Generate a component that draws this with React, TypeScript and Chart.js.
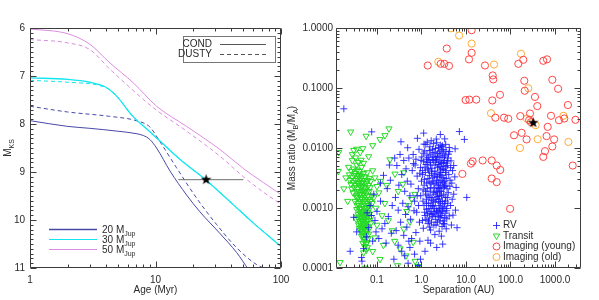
import React, { useEffect, useRef } from 'react';
import { Chart, registerables } from 'chart.js';
Chart.register(...registerables);

// ---------------- Left panel data (Age in Myr vs M_KS) ----------------
const ageCond20 = [1, 2, 3, 5, 7, 8, 9, 10.2, 13.06, 17.7, 22.6, 32.6, 44.4, 55, 70];
const magCond20 = [7.93, 8.05, 8.09, 8.15, 8.2, 8.24, 8.32, 8.5, 8.98, 9.48, 9.83, 10.28, 10.68, 11.03, 11.4];
const ageDusty20 = [1, 2, 4.3, 7, 9, 10.8, 14.7, 21.2, 30.6, 44.4, 64, 82];
const magDusty20 = [7.63, 7.75, 7.84, 7.93, 8.06, 8.36, 8.91, 9.54, 10.09, 10.58, 10.93, 11.05];
const ageCond30 = [1, 2, 3, 4, 4.9, 6.6, 8.5, 10.8, 15.7, 25.6, 41.6, 60, 100];
const magCond30 = [7.04, 7.07, 7.13, 7.23, 7.42, 7.84, 8.1, 8.35, 8.74, 9.18, 9.68, 10.06, 10.55];
const ageDusty30 = [1, 2, 3.6, 4.4, 4.9, 6.6, 8.5, 10.8, 15.7, 25.6, 41.6, 60, 100];
const magDusty30 = [7.09, 7.13, 7.2, 7.3, 7.42, 7.84, 8.1, 8.35, 8.74, 9.18, 9.68, 10.06, 10.55];
const ageCond50 = [1, 2, 3, 4.34, 6.64, 10.2, 17.7, 32.6, 50.3, 72.4, 100];
const magCond50 = [6.02, 6.12, 6.34, 6.73, 7.14, 7.63, 8.05, 8.53, 8.93, 9.22, 9.47];
const ageDusty50 = [1, 2, 3, 4.34, 5.2, 9.6, 17.7, 32.6, 50.3, 72.4, 100];
const magDusty50 = [6.24, 6.31, 6.45, 6.86, 7.05, 7.66, 8.15, 8.67, 9.1, 9.42, 9.67];
const objAge = 25.3;
const objAgeRange = [15.2, 50.1];
const objMag = 9.16;

const leftXTicks = [1, 10, 100];
const leftXLabels = ['1', '10', '100'];
const leftYTicks = [6, 7, 8, 9, 10, 11];
const leftYLabels = ['6', '7', '8', '9', '10', '11'];
const massLabels = ['20', '30', '50'];

// ---------------- Right panel data (Separation AU vs mass ratio) ----------------
const rvPoints: [number, number][] = [
  [1.1,0.0082],[1.3,0.0065],[1.5,0.0091],[1.8,0.0073],[2.1,0.0058],[2.5,0.0088],[2.9,0.0069],[3.4,0.0076],[1.2,0.0048],[1.6,0.0052],
  [2.0,0.0041],[2.3,0.0047],[2.7,0.0039],[3.1,0.0044],[3.8,0.0051],[1.05,0.0036],[1.4,0.0031],[1.7,0.0038],[2.2,0.0029],[2.6,0.0033],
  [3.0,0.0027],[3.6,0.0031],[4.1,0.0036],[1.15,0.0024],[1.35,0.0021],[1.9,0.0025],[2.4,0.0022],[2.8,0.0019],[3.3,0.0023],[4.0,0.0018],
  [1.25,0.0017],[1.55,0.0015],[1.85,0.0018],[2.15,0.0014],[2.55,0.0016],[2.95,0.0013],[3.5,0.0015],[1.08,0.0013],[1.45,0.0012],[1.75,0.0011],
  [2.05,0.00125],[2.45,0.0011],[3.2,0.00105],[3.9,0.0012],[1.3,0.00095],[1.65,0.00088],[1.95,0.00098],[2.35,0.00085],[2.75,0.00092],[3.4,0.00082],
  [1.2,0.00075],[1.5,0.00068],[1.8,0.00072],[2.1,0.00064],[2.65,0.0007],[3.05,0.00061],[3.7,0.00066],[1.4,0.00055],[1.9,0.00052],[2.3,0.00058],
  [2.9,0.00049],[3.3,0.00054],[1.1,0.00046],[1.6,0.00043],[2.5,0.00041],[3.6,0.00045],[2.0,0.00036],[2.8,0.00034],[1.35,0.0058],[1.75,0.0064],
  [2.25,0.0072],[2.85,0.0055],[3.25,0.0062],[3.95,0.0068],[1.55,0.0105],[2.05,0.0098],[2.65,0.0112],[3.15,0.0094],[1.25,0.0115],[4.3,0.0087],
  [1.45,0.0043],[1.95,0.0034],[2.45,0.0027],[3.45,0.0039],[1.65,0.0026],[2.2,0.0019],[2.7,0.0024],[3.75,0.0021],[1.0,0.0028],[4.4,0.0029],
  [1.3,0.0014],[1.7,0.00135],[2.3,0.00155],[2.6,0.00128],[3.6,0.00098],[4.2,0.00074],[1.05,0.00062],[1.9,0.00082],[2.4,0.00072],[3.0,0.00088],
  [0.65,0.0078],[0.72,0.0052],[0.8,0.0034],[0.85,0.0021],[0.7,0.0013],[0.78,0.00085],[0.9,0.00058],[0.75,0.00039],[0.88,0.0095],[0.95,0.0047],
  [4.6,0.0061],[5.0,0.0042],[4.8,0.0026],[5.3,0.0017],[4.5,0.0011],[5.1,0.00076],[4.7,0.00052],[5.6,0.0033],[6.0,0.0022],[5.8,0.00092],
  [0.81,0.0145],[1.12,0.0177],[1.14,0.0116],[2.65,0.0168],[3.32,0.0142],[2.2,0.0122],[3.5,0.0115],[2.84,0.0105],[4.2,0.0102],[7.1,0.0188],
  [9.2,0.0139],[5.7,0.0097],[0.49,0.0101],[0.346,0.0127],[0.076,0.0186],[6.3,0.00047],[10.4,0.0015],[0.92,0.00028],[1.6,0.00026],[2.2,0.00022],
  [0.6,0.00031],[0.55,0.00022],[0.7,0.00017],[1.2,0.00019],[0.95,0.00014],[0.5,0.00012],[0.42,0.00016],[1.4,0.00029],[3.0,0.00025],[0.85,0.00011],
  [0.33,0.0078],[0.4,0.0062],[0.28,0.0051],[0.45,0.0045],[0.52,0.0068],[0.36,0.0036],[0.48,0.0028],[0.31,0.0024],[0.42,0.0019],[0.55,0.0016],
  [0.26,0.0015],[0.38,0.0012],[0.5,0.00105],[0.3,0.00092],[0.44,0.00078],[0.57,0.00065],[0.34,0.00058],[0.47,0.00048],[0.27,0.00042],[0.4,0.00035],
  [0.52,0.00028],[0.3,0.00024],[0.36,0.00019],[0.24,0.00014],[0.2,0.0029],[0.17,0.0021],[0.22,0.0011],[0.18,0.00072],[0.15,0.00055],[0.21,0.00038],
  [0.16,0.00026],[0.12,0.0013],[0.1,0.00088],[0.13,0.00045],[0.09,0.00062],[0.11,0.00031],[0.085,0.0017],[0.07,0.0011],[0.065,0.00047],[0.058,0.00033],
  [0.05,0.00021],[0.045,0.00015],[0.06,0.00083],[0.075,0.00075],[0.095,0.0004],[0.14,0.0035],[0.19,0.0052],[0.25,0.0068],[0.12,0.0026],[0.08,0.00028],
  [0.046,0.00013],[0.035,0.0004],[0.03,0.0007],[0.025,0.00019],[0.018,0.045],
  [1.02,0.0071],[1.18,0.0089],[1.33,0.0076],[1.48,0.0063],[1.62,0.0079],[1.78,0.0095],[1.92,0.0084],[2.08,0.0069],[2.32,0.0081],[2.48,0.0061],
  [2.62,0.0076],[2.78,0.0093],[3.02,0.0082],[3.28,0.0071],[3.55,0.0088],[3.85,0.0061],[4.05,0.0079],[1.12,0.0059],[1.27,0.0053],[1.42,0.0069],
  [1.58,0.0057],[1.72,0.0046],[1.88,0.0062],[2.02,0.0052],[2.18,0.0064],[2.38,0.0053],[2.58,0.0049],[2.72,0.0058],[2.92,0.0046],[3.12,0.0057],
  [3.42,0.0049],[3.68,0.0056],[1.06,0.0042],[1.22,0.0039],[1.38,0.0045],[1.52,0.0035],[1.68,0.0041],[1.82,0.0032],[2.12,0.0037],[2.28,0.0033],
  [2.52,0.0036],[2.68,0.0043],[2.88,0.0035],[3.18,0.0032],[3.35,0.0028],[3.58,0.0042],[1.16,0.003],[1.31,0.0026],[1.49,0.0027],[1.61,0.0022],
  [1.79,0.0028],[1.98,0.0021],[2.14,0.0026],[2.36,0.0024],[2.56,0.0021],[2.76,0.0029],[3.08,0.0022],[3.22,0.0026],[3.52,0.0024],[1.09,0.002],
  [1.24,0.0019],[1.41,0.0016],[1.57,0.0019],[1.73,0.0015],[1.88,0.0013],[2.03,0.0017],[2.26,0.0018],[2.42,0.0014],[2.62,0.0019],[2.82,0.0016],
  [3.15,0.0017],[3.42,0.0013],[3.8,0.0015],[1.14,0.0011],[1.29,0.0012],[1.46,0.00098],[1.62,0.0011],[1.82,0.00105],[2.22,0.00092],[2.52,0.00098],
  [2.68,0.0012],[2.98,0.001],[3.28,0.00118],[3.7,0.0009],[1.18,0.00085],[1.36,0.0008],[1.55,0.00082],[1.72,0.00078],[2.02,0.00076],[2.18,0.00088],
  [2.62,0.00082],[2.86,0.00075],[3.32,0.00069],[1.26,0.00064],[1.44,0.00061],[1.68,0.00058],[2.12,0.00052],[2.58,0.00061],[3.12,0.00055],[1.52,0.00048],
  [0.98,0.0062],[0.92,0.0038],[0.96,0.0016],[0.86,0.0011],[4.5,0.0047],[4.35,0.0023],[4.9,0.0014],[1.35,0.0125],[1.85,0.0118],[2.42,0.0102],
  [2.95,0.0109],[1.65,0.0132],[2.15,0.0141],[0.62,0.0042],[0.58,0.0025],[0.68,0.0009],[0.66,0.0055],[5.3,0.0051],[0.75,0.0065],[0.8,0.0016],
];

const transitPoints: [number, number][] = [
  [0.03,0.0045],[0.035,0.0052],[0.04,0.0041],[0.045,0.0048],[0.05,0.0038],[0.028,0.0033],[0.033,0.0029],[0.038,0.0035],[0.043,0.0031],[0.048,0.0027],
  [0.055,0.0033],[0.06,0.0029],[0.065,0.0024],[0.026,0.0025],[0.031,0.0022],[0.036,0.0021],[0.041,0.0024],[0.046,0.0019],[0.052,0.0022],[0.058,0.0018],
  [0.029,0.0018],[0.034,0.0016],[0.039,0.0019],[0.044,0.0015],[0.049,0.0017],[0.054,0.0014],[0.062,0.0016],[0.07,0.0013],[0.032,0.0013],[0.037,0.0012],
  [0.042,0.0013],[0.047,0.0011],[0.053,0.0012],[0.059,0.001],[0.066,0.0011],[0.035,0.00095],[0.04,0.00088],[0.045,0.00098],[0.05,0.00085],[0.056,0.0009],
  [0.038,0.00078],[0.043,0.00072],[0.048,0.00076],[0.052,0.00068],[0.061,0.00074],[0.034,0.00065],[0.041,0.0006],[0.046,0.00063],[0.051,0.00057],[0.057,0.0006],
  [0.039,0.00052],[0.044,0.00049],[0.049,0.00053],[0.054,0.00046],[0.063,0.0005],[0.042,0.00042],[0.047,0.0004],[0.052,0.00038],[0.058,0.00041],[0.045,0.00034],
  [0.05,0.00032],[0.055,0.0003],[0.06,0.00027],[0.048,0.00026],[0.053,0.00023],[0.027,0.0041],[0.025,0.0029],[0.024,0.0036],[0.032,0.0038],[0.037,0.0026],
  [0.042,0.0036],[0.047,0.0023],[0.057,0.0026],[0.067,0.0019],[0.072,0.0028],[0.075,0.0016],[0.068,0.0008],[0.072,0.00055],[0.065,0.00037],[0.058,0.0002],
  [0.033,0.0069],[0.038,0.0058],[0.028,0.0062],[0.044,0.0063],[0.05,0.0056],[0.023,0.0048],[0.036,0.0043],[0.041,0.0017],[0.046,0.0014],[0.053,0.0016],
  [0.04,0.0011],[0.044,0.00083],[0.05,0.0007],[0.055,0.00079],[0.036,0.00071],[0.043,0.00055],[0.048,0.00061],[0.054,0.00052],[0.062,0.00062],[0.056,0.00035],
  [0.08,0.0042],[0.09,0.0032],[0.1,0.0023],[0.085,0.0015],[0.095,0.001],[0.11,0.0018],[0.12,0.0028],[0.13,0.00075],[0.1,0.00052],[0.15,0.0012],
  [0.165,0.0024],[0.196,0.0064],[0.254,0.0037],[0.3,0.0019],[0.71,0.0017],[0.47,0.00088],[0.52,0.0011],[0.55,0.00059],[0.4,0.00045],[0.22,0.00042],
  [0.18,0.00062],[0.25,0.00028],[0.33,0.00021],[0.45,0.00016],[0.117,0.00014],[0.85,0.000107],[0.054,0.0001],[0.0148,0.000124],[0.0135,0.0041],[0.02,0.0032],
  [0.018,0.0021],[0.022,0.0013],[0.08,0.00019],[0.09,0.00032],[0.14,0.00024],[0.6,0.0014],[0.38,0.0025],[0.65,0.00027],[0.29,0.00011],[0.72,0.00013],
  [0.0256,0.0186],[0.035,0.0096],[0.048,0.0098],[0.057,0.0158],[0.08,0.011],[0.117,0.0139],[0.151,0.0162],[0.186,0.021],[0.03,0.0092],[0.042,0.0085],
  [0.065,0.0072],[0.028,0.0078],[0.0138,0.0085],[0.4,0.0039],
  [0.031,0.0035],[0.036,0.0031],[0.041,0.0029],[0.046,0.0034],[0.051,0.0029],[0.039,0.0026],[0.044,0.0022],[0.049,0.002],[0.034,0.0019],[0.038,0.0015],
  [0.043,0.0018],[0.048,0.0013],[0.053,0.0019],[0.058,0.0013],[0.036,0.0011],[0.041,0.00098],[0.046,0.00088],[0.051,0.001],[0.056,0.0011],[0.039,0.00068],
  [0.044,0.00066],[0.049,0.00071],[0.054,0.00064],[0.04,0.00046],[0.045,0.00044],[0.05,0.00048],[0.055,0.00042],[0.047,0.00036],[0.052,0.00028],[0.057,0.00025],
  [0.063,0.00031],[0.05,0.00018],[0.061,0.00022],[0.029,0.0027],[0.027,0.0021],[0.033,0.0024],[0.06,0.0039],[0.066,0.0031],[0.07,0.0022],[0.064,0.0014],
  [0.069,0.001],[0.074,0.0007],[0.078,0.0012],[0.035,0.0015],[0.055,0.0021],[0.045,0.0026],[0.04,0.0033],[0.062,0.00086],[0.058,0.00055],[0.066,0.00045],
];

const youngPoints: [number, number][] = [
  [13.4,0.92],[3.7,0.455],[13.4,0.386],[11.7,0.3],[2.7,0.253],[3.25,0.253],[4.15,0.234],[1.38,0.237],[26.7,0.237],[39.8,0.162],
  [41,0.139],[194,0.295],[150,0.253],[546,0.284],[661,0.3],[204,0.132],[871,0.137],[209,0.09],[1175,0.097],[355,0.071],
  [400,0.05],[58,0.077],[39,0.062],[9.8,0.063],[11.9,0.064],[17,0.064],[1950,0.052],[45.7,0.032],[71.5,0.032],[89,0.0307],
  [166,0.034],[274,0.0376],[263,0.029],[288,0.027],[813,0.0344],[1230,0.029],[1620,0.031],[2880,0.0295],[686,0.0225],[120,0.0163],
  [178,0.0179],[230,0.0139],[646,0.0158],[955,0.0139],[871,0.0106],[596,0.00885],[546,0.0071],[14.1,0.006],[12.9,0.0055],[23.7,0.0062],
  [37.8,0.0062],[49,0.0051],[59,0.0043],[8.3,0.0037],[37.8,0.0031],[49,0.0027],[2500,0.0051],[98,0.00097],
];

const oldPoints: [number, number][] = [
  [4.6,0.99],[7.0,0.75],[13.4,0.55],[2.39,0.273],[42.7,0.246],[172,0.372],[251,0.099],[36.5,0.038],[234,0.031],[368,0.024],
  [408,0.014],[2000,0.0126],[163,0.01],[1550,0.0344],
];

const starPoint: [number, number] = [324, 0.0263];

const rightXTicks = [0.1, 1, 10, 100, 1000];
const rightXLabels = ['0.1', '1.0', '10.0', '100.0', '1000.0'];
const rightYTicks = [1, 0.1, 0.01, 0.001, 0.0001];
const rightYLabels = ['1.0000', '0.1000', '0.0100', '0.0010', '0.0001'];
const legendNames = ['RV', 'Transit', 'Imaging (young)', 'Imaging (old)'];

// ---------------- Styles ----------------
const FONT = '"Liberation Sans", Arial, sans-serif';
const TEXT = '#2a2a2a';
const FRAME = '#3c3c3c';
const C20 = '#4848a8';
const C30 = '#12e6ee';
const C50 = '#dc8ce0';
const C_RV = 'rgba(25,25,255,0.85)';
const C_TR = '#26d926';
const C_YO = '#ff4545';
const C_OLD = '#ffaa33';
const RIGHT_OFFSET = 280;

type Part = { t: string; sub?: boolean };

function richText(ctx: CanvasRenderingContext2D, parts: Part[], x: number, y: number, align: 'left' | 'center' | 'right', size = 10) {
  const subSize = Math.round(size * 0.7);
  const widths: number[] = [];
  let total = 0;
  for (const p of parts) {
    ctx.font = `${p.sub ? subSize : size}px ${FONT}`;
    const w = ctx.measureText(p.t).width;
    widths.push(w);
    total += w;
  }
  let cx = align === 'left' ? x : align === 'center' ? x - total / 2 : x - total;
  ctx.textAlign = 'left';
  ctx.textBaseline = 'alphabetic';
  parts.forEach((p, i) => {
    ctx.font = `${p.sub ? subSize : size}px ${FONT}`;
    ctx.fillText(p.t, cx, y + (p.sub ? size * 0.3 : 0));
    cx += widths[i];
  });
}

function makeStar(size: number, color: string) {
  const c = document.createElement('canvas');
  c.width = size;
  c.height = size;
  const g = c.getContext('2d')!;
  const cx = size / 2, cy = size / 2, R = size / 2, r = R * 0.42;
  g.beginPath();
  for (let i = 0; i < 10; i++) {
    const a = -Math.PI / 2 + (i * Math.PI) / 5;
    const rad = i % 2 === 0 ? R : r;
    g.lineTo(cx + rad * Math.cos(a), cy + rad * Math.sin(a));
  }
  g.closePath();
  g.fillStyle = color;
  g.fill();
  return c;
}

function logMinor(min: number, max: number) {
  const out: number[] = [];
  for (let e = -3; e <= 4; e++) {
    for (let m = 2; m <= 9; m++) {
      const v = m * Math.pow(10, e);
      if (v > min && v < max) out.push(v);
    }
  }
  return out;
}

function drawFrame(chart: any, xTicks: [number, number][], yTicks: [number, number][]) {
  const ctx: CanvasRenderingContext2D = chart.ctx;
  const a = chart.chartArea;
  const sx = chart.scales.x;
  const sy = chart.scales.y;
  ctx.save();
  ctx.setLineDash([]);
  ctx.globalAlpha = 1;
  ctx.globalCompositeOperation = 'source-over';
  ctx.strokeStyle = FRAME;
  ctx.lineWidth = 1;
  const L = Math.round(a.left) + 0.5, R = Math.round(a.right) - 0.5, T = Math.round(a.top) + 0.5, B = Math.round(a.bottom) - 0.5;
  ctx.beginPath();
  ctx.moveTo(L, T); ctx.lineTo(R, T); ctx.lineTo(R, B); ctx.lineTo(L, B); ctx.closePath();
  for (const [v, len] of xTicks) {
    const x = Math.round(sx.getPixelForValue(v)) + 0.5;
    ctx.moveTo(x, B); ctx.lineTo(x, B - len);
    ctx.moveTo(x, T); ctx.lineTo(x, T + len);
  }
  for (const [v, len] of yTicks) {
    const y = Math.round(sy.getPixelForValue(v)) + 0.5;
    ctx.moveTo(L, y); ctx.lineTo(L + len, y);
    ctx.moveTo(R, y); ctx.lineTo(R - len, y);
  }
  ctx.stroke();
  ctx.restore();
}

const leftDecor = {
  id: 'leftDecor',
  afterDraw(chart: any) {
    const { ctx, scales, chartArea: a } = chart;
    const xt: [number, number][] = [];
    leftXTicks.forEach((v) => xt.push([v, 6]));
    logMinor(1, 100).forEach((v) => xt.push([v, 3]));
    const yt: [number, number][] = [];
    leftYTicks.forEach((v) => yt.push([v, 6]));
    for (let i = 1; i < 50; i++) if (i % 10 !== 0) yt.push([6 + i / 10, 3]);
    drawFrame(chart, xt, yt);

    ctx.save();
    ctx.fillStyle = TEXT;
    ctx.font = `10px ${FONT}`;
    ctx.textAlign = 'center';
    ctx.textBaseline = 'middle';
    leftXTicks.forEach((v, i) => ctx.fillText(leftXLabels[i], scales.x.getPixelForValue(v), a.bottom + 12));
    ctx.textAlign = 'right';
    leftYTicks.forEach((v, i) => ctx.fillText(leftYLabels[i], a.left - 5, scales.y.getPixelForValue(v)));
    ctx.textAlign = 'center';
    ctx.fillText('Age (Myr)', (a.left + a.right) / 2, 290);
    ctx.save();
    ctx.translate(11, (a.top + a.bottom) / 2);
    ctx.rotate(-Math.PI / 2);
    richText(ctx, [{ t: 'M' }, { t: 'KS', sub: true }], 0, 0, 'center');
    ctx.restore();

    // COND / DUSTY legend
    ctx.strokeStyle = '#777';
    ctx.lineWidth = 1;
    ctx.strokeRect(183.5, 36.5, 92, 26);
    ctx.fillStyle = TEXT;
    ctx.textAlign = 'right';
    ctx.textBaseline = 'middle';
    ctx.font = `10px ${FONT}`;
    ctx.fillText('COND', 212, 44.5);
    ctx.fillText('DUSTY', 212, 54.5);
    ctx.strokeStyle = '#555';
    ctx.beginPath();
    ctx.moveTo(220, 44.5); ctx.lineTo(266, 44.5);
    ctx.stroke();
    ctx.setLineDash([4, 3]);
    ctx.beginPath();
    ctx.moveTo(220, 54.5); ctx.lineTo(266, 54.5);
    ctx.stroke();
    ctx.setLineDash([]);

    // mass legend
    const cols = [C20, C30, C50];
    const rows = [229.5, 239.5, 249.5];
    rows.forEach((y, i) => {
      ctx.strokeStyle = cols[i];
      ctx.lineWidth = i === 0 ? 1.5 : 1;
      ctx.beginPath();
      ctx.moveTo(49, y); ctx.lineTo(97, y);
      ctx.stroke();
      ctx.fillStyle = TEXT;
      richText(ctx, [{ t: massLabels[i] + ' M' }, { t: 'Jup', sub: true }], 102, y + 3.5, 'left');
    });
    ctx.restore();
  },
};

const rightDecor = {
  id: 'rightDecor',
  afterDraw(chart: any) {
    const { ctx, scales, chartArea: a } = chart;
    const xt: [number, number][] = [];
    rightXTicks.forEach((v) => xt.push([v, 6]));
    logMinor(scales.x.min, scales.x.max).forEach((v) => xt.push([v, 3]));
    const yt: [number, number][] = [];
    rightYTicks.forEach((v) => yt.push([v, 6]));
    logMinor(1e-4, 1).forEach((v) => yt.push([v, 3]));
    drawFrame(chart, xt, yt);

    ctx.save();
    ctx.fillStyle = TEXT;
    ctx.font = `10px ${FONT}`;
    ctx.textAlign = 'center';
    ctx.textBaseline = 'middle';
    rightXTicks.forEach((v, i) => ctx.fillText(rightXLabels[i], scales.x.getPixelForValue(v), a.bottom + 12));
    ctx.textAlign = 'right';
    rightYTicks.forEach((v, i) => ctx.fillText(rightYLabels[i], a.left - 3, scales.y.getPixelForValue(v)));
    ctx.textAlign = 'center';
    ctx.fillText('Separation (AU)', (a.left + a.right) / 2, 290);
    ctx.save();
    ctx.translate(295 - RIGHT_OFFSET, (a.top + a.bottom) / 2);
    ctx.rotate(-Math.PI / 2);
    richText(ctx, [{ t: 'Mass ratio (M' }, { t: 'B', sub: true }, { t: '/M' }, { t: 'A', sub: true }, { t: ')' }], 0, 0, 'center');
    ctx.restore();

    // legend
    const mx = 496.5 - RIGHT_OFFSET;
    const tx = 503 - RIGHT_OFFSET;
    const rows = [225.5, 236, 246.5, 257];
    ctx.lineWidth = 1;
    ctx.strokeStyle = C_RV;
    ctx.beginPath();
    ctx.moveTo(mx - 3.5, rows[0]); ctx.lineTo(mx + 3.5, rows[0]);
    ctx.moveTo(mx, rows[0] - 3.5); ctx.lineTo(mx, rows[0] + 3.5);
    ctx.stroke();
    ctx.strokeStyle = C_TR;
    ctx.beginPath();
    ctx.moveTo(mx - 3.2, rows[1] - 2); ctx.lineTo(mx + 3.2, rows[1] - 2); ctx.lineTo(mx, rows[1] + 3.5);
    ctx.closePath();
    ctx.stroke();
    ctx.strokeStyle = C_YO;
    ctx.beginPath(); ctx.arc(mx, rows[2], 3.5, 0, Math.PI * 2); ctx.stroke();
    ctx.strokeStyle = C_OLD;
    ctx.beginPath(); ctx.arc(mx, rows[3], 3.5, 0, Math.PI * 2); ctx.stroke();
    ctx.fillStyle = TEXT;
    ctx.font = `10px ${FONT}`;
    ctx.textAlign = 'left';
    ctx.textBaseline = 'middle';
    legendNames.forEach((n, i) => ctx.fillText(n, tx, rows[i]));
    ctx.restore();
  },
};

function toXY(xs: number[], ys: number[]) {
  return xs.map((x, i) => ({ x, y: ys[i] }));
}
function pairs(p: [number, number][]) {
  return p.map(([x, y]) => ({ x, y }));
}

function lineDs(xs: number[], ys: number[], color: string, dashed: boolean, width = 1) {
  return {
    type: 'line' as const,
    data: toXY(xs, ys),
    borderColor: color,
    borderWidth: width,
    borderDash: dashed ? [4, 3] : [],
    pointRadius: 0,
    cubicInterpolationMode: 'monotone' as const,
    fill: false,
  };
}

export default function App() {
  const leftRef = useRef<HTMLCanvasElement>(null);
  const rightRef = useRef<HTMLCanvasElement>(null);

  useEffect(() => {
    const star = makeStar(11, '#000');
    const left = new Chart(leftRef.current!, {
      type: 'line',
      data: {
        datasets: [
          lineDs(ageDusty50, magDusty50, C50, true),
          lineDs(ageCond50, magCond50, C50, false),
          lineDs(ageDusty20, magDusty20, C20, true),
          lineDs(ageCond20, magCond20, C20, false),
          lineDs(ageDusty30, magDusty30, C30, true),
          lineDs(ageCond30, magCond30, C30, false, 1.3),
          {
            type: 'line' as const,
            data: [{ x: objAgeRange[0], y: objMag }, { x: objAgeRange[1], y: objMag }],
            borderColor: '#707070',
            borderWidth: 1,
            pointRadius: 0,
            fill: false,
          },
          {
            type: 'scatter' as const,
            data: [{ x: objAge, y: objMag }],
            pointStyle: star,
            pointRadius: 5,
          } as any,
        ].map((d, i, arr) => ({ ...d, order: arr.length - i })),
      },
      options: {
        responsive: false,
        animation: false,
        events: [],
        layout: { padding: { left: 30, right: 19, top: 28, bottom: 32 } },
        scales: {
          x: { type: 'logarithmic', min: 1, max: 100, display: false },
          y: { type: 'linear', min: 6, max: 11, reverse: true, display: false },
        },
        plugins: { legend: { display: false }, tooltip: { enabled: false } },
      },
      plugins: [leftDecor],
    } as any);

    const right = new Chart(rightRef.current!, {
      type: 'scatter',
      data: {
        datasets: [
          {
            data: pairs(transitPoints),
            pointStyle: 'triangle',
            rotation: 180,
            pointRadius: 3.6,
            pointBorderColor: C_TR,
            pointBackgroundColor: 'rgba(0,0,0,0)',
            pointBorderWidth: 1,
            order: 5,
          },
          {
            data: pairs(rvPoints),
            pointStyle: 'cross',
            pointRadius: 3.5,
            pointBorderColor: C_RV,
            pointBackgroundColor: 'rgba(0,0,0,0)',
            pointBorderWidth: 1,
            order: 4,
          },
          {
            data: pairs(oldPoints),
            pointStyle: 'circle',
            pointRadius: 3.6,
            pointBorderColor: C_OLD,
            pointBackgroundColor: 'rgba(0,0,0,0)',
            pointBorderWidth: 1,
            order: 3,
          },
          {
            data: pairs(youngPoints),
            pointStyle: 'circle',
            pointRadius: 3.6,
            pointBorderColor: C_YO,
            pointBackgroundColor: 'rgba(0,0,0,0)',
            pointBorderWidth: 1,
            order: 2,
          },
          {
            data: [{ x: starPoint[0], y: starPoint[1] }],
            pointStyle: star,
            pointRadius: 5,
            order: 1,
          } as any,
        ],
      },
      options: {
        responsive: false,
        animation: false,
        events: [],
        layout: { padding: { left: 336 - RIGHT_OFFSET, right: 319 - (581 - RIGHT_OFFSET), top: 28, bottom: 32 } },
        scales: {
          x: { type: 'logarithmic', min: 0.012, max: 3840, display: false },
          y: { type: 'logarithmic', min: 0.0001, max: 1, display: false },
        },
        plugins: { legend: { display: false }, tooltip: { enabled: false } },
      },
      plugins: [rightDecor],
    } as any);

    return () => {
      left.destroy();
      right.destroy();
    };
  }, []);

  return (
    <div style={{ position: 'absolute', left: 0, top: 0, width: 599, height: 300, background: '#fff' }}>
      <canvas ref={leftRef} width={300} height={300} style={{ position: 'absolute', left: 0, top: 0, width: 300, height: 300 }} />
      <canvas ref={rightRef} width={319} height={300} style={{ position: 'absolute', left: RIGHT_OFFSET, top: 0, width: 319, height: 300 }} />
    </div>
  );
}
